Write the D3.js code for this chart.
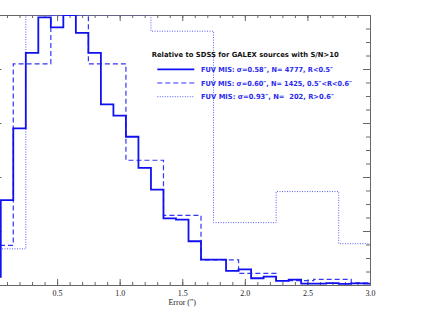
<!DOCTYPE html>
<html>
<head>
<meta charset="utf-8">
<script src="https://cdn.jsdelivr.net/npm/d3@7"></script>
<style>
  body { margin: 0; background: white; }
  svg { display: block; }
  .tick text { font-family: "Liberation Serif", "DejaVu Serif", serif; }
</style>
</head>
<body>
<div id="chart"></div>
<script>
// bin centres / normalised counts
var solidCenters = [0.0, 0.1, 0.2, 0.3, 0.4, 0.5, 0.6, 0.7, 0.8, 0.9, 1.0, 1.1, 1.2, 1.3, 1.4, 1.5,
    1.6, 1.7, 1.8, 1.9, 2.0, 2.1, 2.2, 2.3, 2.4, 2.5, 2.6, 2.7, 2.8, 2.9, 3.0];
var solidValues = [0.03, 0.314, 0.580, 0.860, 0.991, 0.954, 1.0, 0.934, 0.860, 0.669, 0.627, 0.549,
    0.434, 0.353, 0.247, 0.242, 0.162, 0.094, 0.094, 0.052, 0.058, 0.025, 0.031, 0.015, 0.020,
    0.005, 0.005, 0.007, 0.004, 0.006, 0.005];

var dashedCenters = [0.0, 0.3, 0.6, 0.9, 1.2, 1.5, 1.8, 2.1, 2.4, 2.7, 3.0];
var dashedValues = [0.147, 0.819, 1.0, 0.819, 0.462, 0.258, 0.093, 0.043, 0.016, 0.021, 0.008];

var dottedCenters = [0.0, 0.5, 1.0, 1.5, 2.0, 2.5, 3.0];
var dottedValues = [0.134, 1.0, 1.0, 0.94, 0.231, 0.346, 0.153];

var legendTitle = "Relative to SDSS for GALEX sources with S/N>10";
var legendLabels = [
    "FUV MIS: \u03c3=0.58\u2033, N= 4777, R<0.5\u2033",
    "FUV MIS: \u03c3=0.60\u2033, N= 1425, 0.5\u2033<R<0.6\u2033",
    "FUV MIS: \u03c3=0.93\u2033, N=  202, R>0.6\u2033"
];
var xTickLabels = ["", "0.5", "1.0", "1.5", "2.0", "2.5", "3.0"];
var xTitle = "Error (\u2033)";

var margin = { top: 15, right: 61, bottom: 27, left: -5.5 },
    width = 431 - margin.left - margin.right,
    height = 312 - margin.top - margin.bottom;

var svg = d3.select("#chart")
    .append("svg")
    .attr("width", 431)
    .attr("height", 312)
    .append("g")
    .attr("transform", "translate(" + margin.left + "," + margin.top + ")");

var x = d3.scaleLinear().domain([0, 3]).range([0, width]);
var y = d3.scaleLinear().domain([0, 1]).range([height, 0]);

svg.append("clipPath").attr("id", "clip")
    .append("rect").attr("width", width).attr("height", height);

var majorX = d3.range(0, 3.001, 0.5),
    minorX = d3.range(0, 3.001, 0.1),
    majorY = d3.range(0, 1.001, 0.2),
    minorY = d3.range(0, 1.001, 0.05);

function drawAxis(axis, ticks, len, tr, labels) {
    var g = svg.append("g")
        .attr("transform", tr)
        .call(axis.tickValues(ticks).tickSizeInner(-len).tickSizeOuter(0)
            .tickFormat(labels ? function (d, i) { return labels[i]; } : ""));
    g.select(".domain").attr("stroke", "#666");
    g.selectAll(".tick line").attr("stroke", "#666");
    return g;
}

// minor ticks
drawAxis(d3.axisBottom(x), minorX, 3, "translate(0," + height + ")");
drawAxis(d3.axisTop(x), minorX, 3, "translate(0,0)");
drawAxis(d3.axisLeft(y), minorY, 4, "translate(0,0)");
drawAxis(d3.axisRight(y), minorY, 4, "translate(" + width + ",0)");
// major ticks
var xb = drawAxis(d3.axisBottom(x), majorX, 6, "translate(0," + height + ")", xTickLabels);
xb.selectAll(".tick text")
    .attr("y", 5)
    .attr("font-size", "8px")
    .attr("fill", "#222");
drawAxis(d3.axisTop(x), majorX, 6, "translate(0,0)");
drawAxis(d3.axisLeft(y), majorY, 7, "translate(0,0)");
drawAxis(d3.axisRight(y), majorY, 7, "translate(" + width + ",0)");

svg.append("text")
    .attr("x", x(1.5))
    .attr("y", height + 20)
    .attr("text-anchor", "middle")
    .attr("font-family", "Liberation Serif, DejaVu Serif, serif")
    .attr("font-size", "8px")
    .attr("fill", "#222")
    .text(xTitle);

function stepPath(centers, values) {
    var w = centers[1] - centers[0];
    var pts = [[x(centers[0] - w / 2), y(0)]];
    centers.forEach(function (c, i) {
        pts.push([x(c - w / 2), y(values[i])]);
        pts.push([x(c + w / 2), y(values[i])]);
    });
    return d3.line()(pts);
}

var styles = [
    { color: "#1010f0", width: 1.8, dash: null },
    { color: "#3535f5", width: 1.2, dash: "5,3" },
    { color: "#5a5af5", width: 1, dash: "1,1.5" }
];
var series = [[solidCenters, solidValues], [dashedCenters, dashedValues], [dottedCenters, dottedValues]];

var plot = svg.append("g").attr("clip-path", "url(#clip)");
series.slice().reverse().forEach(function (s, j) {
    var st = styles[series.length - 1 - j];
    plot.append("path")
        .attr("d", stepPath(s[0], s[1]))
        .attr("fill", "none")
        .attr("stroke", st.color)
        .attr("stroke-width", st.width)
        .attr("stroke-dasharray", st.dash);
});

// legend
var lg = svg.append("g").attr("transform", "translate(" + (157.3 - margin.left) + "," + (57 - margin.top) + ")");
lg.append("text")
    .attr("x", -5.6)
    .attr("y", 0)
    .attr("font-family", "DejaVu Sans, sans-serif")
    .attr("font-weight", "bold")
    .attr("font-size", "7px")
    .attr("textLength", 187)
    .attr("lengthAdjust", "spacingAndGlyphs")
    .attr("fill", "#111")
    .text(legendTitle);

var textLens = [132, 151, 133];
legendLabels.forEach(function (lab, i) {
    var yy = 12.3 + i * 13.7;
    lg.append("line")
        .attr("x1", 0).attr("x2", 37)
        .attr("y1", yy).attr("y2", yy)
        .attr("stroke", styles[i].color)
        .attr("stroke-width", styles[i].width)
        .attr("stroke-dasharray", styles[i].dash);
    lg.append("text")
        .attr("x", 43.7)
        .attr("y", yy + 2.6)
        .attr("font-family", "DejaVu Sans, sans-serif")
        .attr("font-weight", "bold")
        .attr("font-size", "7px")
        .attr("textLength", textLens[i])
        .attr("lengthAdjust", "spacingAndGlyphs")
        .attr("fill", "#2a2aee")
        .style("white-space", "pre")
        .text(lab);
});
</script>
</body>
</html>
